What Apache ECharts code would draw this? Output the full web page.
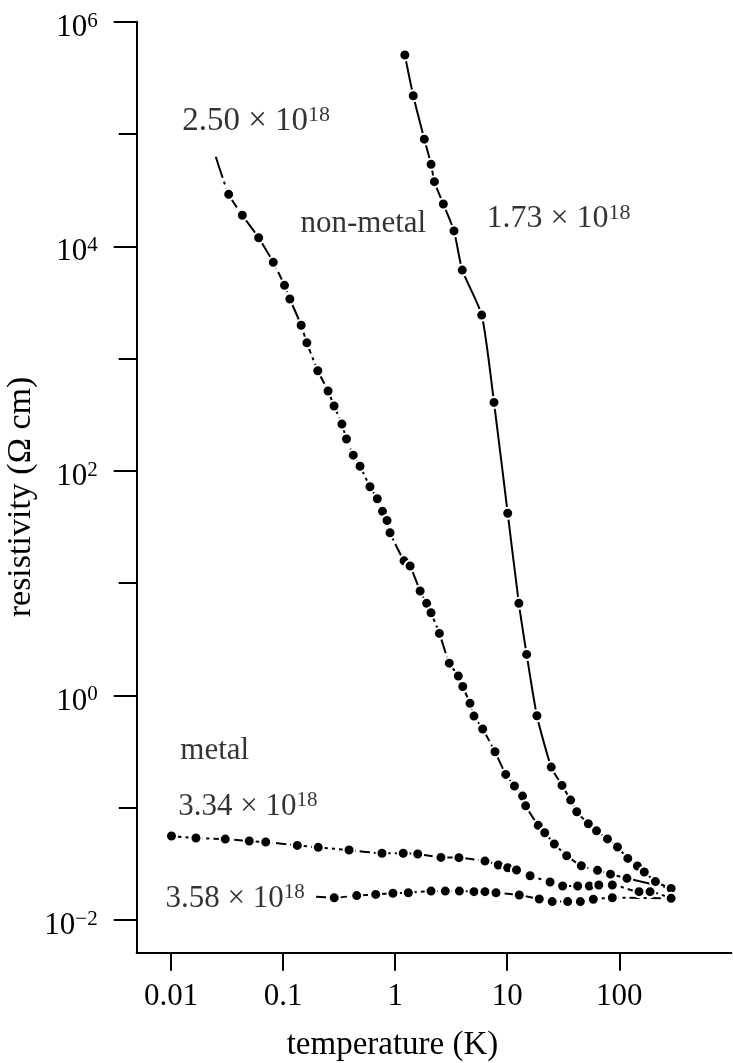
<!DOCTYPE html>
<html>
<head>
<meta charset="utf-8">
<script src="https://cdn.jsdelivr.net/npm/echarts@6/dist/echarts.min.js"></script>
<style>
    html, body { margin: 0; padding: 0; background: #fff; }
    #chart { width: 733px; height: 1063px; }
</style>
</head>
<body>
<div id="chart"></div>
<script>
    // resistivity vs temperature, four doping levels (cm^-3)
    // 1.73e18 (non-metal)
    var T_173 = [1.22, 1.45, 1.82, 2.09, 2.24, 2.69, 3.35, 3.97, 5.92, 7.62, 10.1, 12.7, 14.9, 18.4, 24.7, 30.8, 36.8, 41.7, 52.9, 62.6, 78.4, 96.3, 119, 145, 167, 210, 290];
    var R_173 = [5.05e5, 2.19e5, 9.0e4, 5.37e4, 3.76e4, 2.38e4, 1.37e4, 6.14e3, 2.44e3, 407, 41.9, 6.61, 2.32, 0.659, 0.230, 0.158, 0.117, 0.0921, 0.0720, 0.0623, 0.0528, 0.0447, 0.0354, 0.0303, 0.0268, 0.0220, 0.0191];

    // 2.50e18 (non-metal); the drawn curve starts a little above the first point
    var START_250 = [0.0251, 6.27e4];
    var T_250 = [0.0327, 0.0433, 0.0606, 0.0818, 0.103, 0.115, 0.145, 0.163, 0.204, 0.252, 0.285, 0.335, 0.368, 0.423, 0.486, 0.596, 0.693, 0.771, 0.846, 0.90, 1.20, 1.36, 1.67, 1.91, 2.09, 2.48, 3.04, 3.66, 4.01, 4.65, 5.05, 6.04, 7.78, 9.69, 11.6, 13.7, 14.6, 18.9, 21.6, 26.3, 33.9, 45.8, 63.9, 83.4, 117, 290];
    var R_250 = [2.90e4, 1.89e4, 1.19e4, 7.19e3, 4.49e3, 3.39e3, 1.98e3, 1.38e3, 779, 514, 378, 261, 192, 138, 110, 72.2, 56.4, 43.6, 36.1, 28.1, 15.8, 14.2, 8.51, 6.61, 5.45, 3.57, 1.94, 1.49, 1.20, 0.850, 0.655, 0.502, 0.315, 0.198, 0.156, 0.127, 0.104, 0.0697, 0.0599, 0.0475, 0.0374, 0.0304, 0.0277, 0.0256, 0.0235, 0.0191];

    // 3.34e18 (metal)
    var T_334 = [0.0101, 0.0167, 0.0305, 0.0499, 0.0700, 0.134, 0.206, 0.388, 0.763, 1.18, 1.59, 2.56, 3.71, 6.33, 8.32, 10.1, 12.1, 16.0, 24.1, 31.2, 42.5, 54.0, 65.6, 86.6, 150, 188, 290];
    var R_334 = [0.0560, 0.0537, 0.0526, 0.0505, 0.0495, 0.0462, 0.0444, 0.0420, 0.0393, 0.0393, 0.0387, 0.0361, 0.0359, 0.0335, 0.0309, 0.0292, 0.0279, 0.0248, 0.0218, 0.0201, 0.0201, 0.0201, 0.0205, 0.0205, 0.0179, 0.0179, 0.0156];

    // 3.58e18 (metal); curve starts left of the first point
    var START_358 = [0.197, 0.0161];
    var T_358 = [0.286, 0.454, 0.671, 0.955, 1.31, 2.09, 2.80, 3.74, 5.05, 6.33, 7.94, 12.8, 19.3, 25.2, 34.6, 44.9, 58.6, 86.6, 290];
    var R_358 = [0.0158, 0.0165, 0.0169, 0.0173, 0.0175, 0.0181, 0.0181, 0.0181, 0.0179, 0.0179, 0.0175, 0.0167, 0.0154, 0.0146, 0.0146, 0.0146, 0.0153, 0.0158, 0.0156];

    // tick labels
    var X_TICK_LABELS = ['0.01', '0.1', '1', '10', '100'];     // exponents -2..2
    var Y_TICK_EXP = ['\u22122', '0', '2', '4', '6'];          // exponents -2..6 step 2

    // annotations (anchored in data space: left edge, vertical middle)
    var NOTE_MAIN = ['2.50 \u00d7 10', 'non-metal', '1.73 \u00d7 10', 'metal', '3.34 \u00d7 10', '3.58 \u00d7 10'];
    var NOTE_SUP = ['18', '', '18', '', '18', '18'];
    var NOTE_T = [0.01246, 0.1416, 6.46, 0.0120, 0.01148, 0.00884];
    var NOTE_R = [1.30e5, 1.60e4, 1.75e4, 0.32, 0.1010, 0.0155];
    var NOTE_SIZE = [33, 31, 32, 31, 31, 31];

    var FONT = 'Liberation Serif';

    function zip(ts, rs) {
        return ts.map(function (t, i) { return [t, rs[i]]; });
    }

    function withStart(start, pts) {
        return [{ value: start, symbol: 'none' }].concat(pts);
    }

    var dotStyle = { color: '#000', borderColor: '#fff', borderWidth: 2 };

    function curve(name, data, dash, smooth) {
        return {
            name: name,
            type: 'line',
            xAxisIndex: 0,
            yAxisIndex: 0,
            data: data,
            symbol: 'circle',
            symbolSize: 11,
            showAllSymbol: true,
            smooth: smooth,
            itemStyle: dotStyle,
            lineStyle: { color: '#000', width: 2, type: dash },
            z: 3
        };
    }

    var notes = NOTE_MAIN.map(function (txt, i) {
        var f = NOTE_SIZE[i];
        return {
            value: [NOTE_T[i], NOTE_R[i]],
            label: {
                show: true,
                position: 'right',
                distance: 0,
                formatter: NOTE_SUP[i] ? '{m|' + txt + '}{s|' + NOTE_SUP[i] + '}' : '{m|' + txt + '}',
                rich: {
                    m: { fontFamily: FONT, fontSize: f, lineHeight: 34, color: '#000' },
                    s: { fontFamily: FONT, fontSize: Math.round(f * 0.68), lineHeight: 22, verticalAlign: 'top', color: '#000' }
                }
            }
        };
    });

    var chart = echarts.init(document.getElementById('chart'), null, { renderer: 'canvas' });

    chart.setOption({
        backgroundColor: '#fff',
        animation: false,
        grid: [
            // data grid: log axes spanning the full frame
            { left: 136.7, right: 1.6, top: 21.7, bottom: 110.3 },
            // tick grid: decades 0.01..100 and 1e-2..1e6
            { left: 171, right: 113.7, top: 21.7, bottom: 143 }
        ],
        xAxis: [
            {
                gridIndex: 0, type: 'log', logBase: 10,
                min: Math.pow(10, -2.306), max: 1000,
                axisLine: { show: true, onZero: false, lineStyle: { color: '#000', width: 2 } },
                axisTick: { show: false }, axisLabel: { show: false }, splitLine: { show: false }
            },
            {
                gridIndex: 1, type: 'value', min: -2, max: 2, interval: 1, offset: 32.7,
                position: 'bottom',
                axisLine: { show: false, onZero: false },
                axisTick: { show: true, length: 18, lineStyle: { color: '#000', width: 2 } },
                axisLabel: {
                    margin: 28.5, fontFamily: FONT, fontSize: 31, color: '#000', lineHeight: 31,
                    formatter: function (v) { return X_TICK_LABELS[Math.round(v) + 2]; }
                },
                splitLine: { show: false }
            }
        ],
        yAxis: [
            {
                gridIndex: 0, type: 'log', logBase: 10,
                min: Math.pow(10, -2.291), max: 1e6,
                axisLine: { show: true, onZero: false, lineStyle: { color: '#000', width: 2 } },
                axisTick: { show: false }, axisLabel: { show: false }, splitLine: { show: false }
            },
            {
                gridIndex: 1, type: 'value', min: -2, max: 6, interval: 2, offset: 34.3,
                position: 'left',
                axisLine: { show: false, onZero: false },
                axisTick: { show: true, length: 23, lineStyle: { color: '#000', width: 2 } },
                minorTick: { show: true, splitNumber: 2, length: 18, lineStyle: { color: '#000', width: 2 } },
                axisLabel: {
                    margin: 39, padding: [12, 0, 0, 0],
                    formatter: function (v) {
                        return '{m|10}{s|' + Y_TICK_EXP[Math.round((v + 2) / 2)] + '}';
                    },
                    rich: {
                        m: { fontFamily: FONT, fontSize: 31, lineHeight: 34, color: '#000' },
                        s: { fontFamily: FONT, fontSize: 21, lineHeight: 22, verticalAlign: 'top', color: '#000' }
                    }
                },
                splitLine: { show: false }, minorSplitLine: { show: false }
            }
        ],
        graphic: [
            {
                type: 'text', x: 392.5, y: 1045,
                style: { text: 'temperature (K)', fontFamily: FONT, fontSize: 33, fill: '#000', align: 'center', verticalAlign: 'middle' }
            },
            {
                type: 'text', x: 21, y: 497, rotation: Math.PI / 2,
                style: { text: 'resistivity (\u03a9 cm)', fontFamily: FONT, fontSize: 34, fill: '#000', align: 'center', verticalAlign: 'middle' }
            }
        ],
        series: [
            curve('1.73e18', zip(T_173, R_173), 'solid', 0.2),
            curve('2.50e18', withStart(START_250, zip(T_250, R_250)), [22, 4, 3, 4], 0.2),
            curve('3.34e18', zip(T_334, R_334), [10, 4, 3, 4], 0.2),
            curve('3.58e18', withStart(START_358, zip(T_358, R_358)), [10, 4, 3, 4], 0.2),
            {
                name: 'notes',
                type: 'scatter',
                xAxisIndex: 0, yAxisIndex: 0,
                symbolSize: 1,
                itemStyle: { color: 'rgba(0,0,0,0)' },
                silent: true,
                data: notes
            }
        ]
    });
</script>
</body>
</html>
